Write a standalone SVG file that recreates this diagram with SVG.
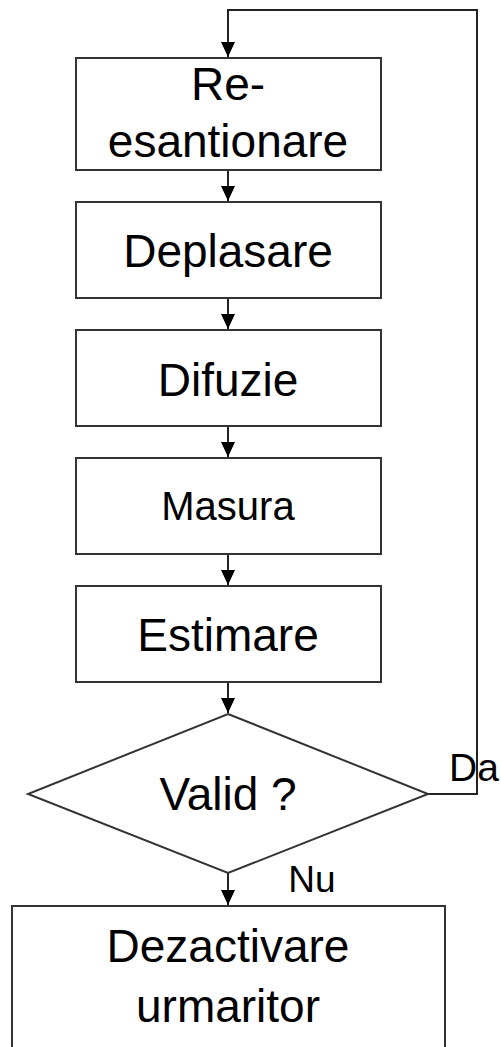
<svg xmlns="http://www.w3.org/2000/svg" width="501" height="1047" viewBox="0 0 501 1047">
<style>
.box{fill:#fff;stroke:#333;stroke-width:2}
.con{fill:none;stroke:#222;stroke-width:2}
text{font-family:"Liberation Sans",Arial,sans-serif;fill:#000;text-anchor:middle}
.t46{font-size:46px}
.t38{font-size:40px}
</style>
<defs>
<marker id="ah" markerUnits="userSpaceOnUse" markerWidth="16" markerHeight="14" refX="15" refY="7" orient="auto" viewBox="0 0 16 14">
<path d="M0,0 L15,7 L0,14 Z" fill="#000"/>
</marker>
</defs>
<rect width="501" height="1047" fill="#fff"/>
<g id="connectors">
<path class="con" d="M428,794 H477 V10 H228 V57" marker-end="url(#ah)"/>
<line class="con" x1="228" y1="170" x2="228" y2="201" marker-end="url(#ah)"/>
<line class="con" x1="228" y1="298" x2="228" y2="329" marker-end="url(#ah)"/>
<line class="con" x1="228" y1="426" x2="228" y2="457" marker-end="url(#ah)"/>
<line class="con" x1="228" y1="554" x2="228" y2="585" marker-end="url(#ah)"/>
<line class="con" x1="228" y1="682" x2="228" y2="713" marker-end="url(#ah)"/>
<line class="con" x1="228" y1="873" x2="228" y2="905" marker-end="url(#ah)"/>
</g>
<g id="n-resantionare">
<rect class="box" x="76" y="58" width="305" height="112"/>
<text class="t46" x="228" y="100">Re-</text>
<text class="t46" x="228" y="157">esantionare</text>
</g>
<g id="n-deplasare">
<rect class="box" x="76" y="202" width="305" height="96"/>
<text class="t46" x="228" y="267">Deplasare</text>
</g>
<g id="n-difuzie">
<rect class="box" x="76" y="330" width="305" height="96"/>
<text class="t46" x="228" y="396">Difuzie</text>
</g>
<g id="n-masura">
<rect class="box" x="76" y="458" width="305" height="96"/>
<text class="t38" x="228" y="520">Masura</text>
</g>
<g id="n-estimare">
<rect class="box" x="76" y="586" width="305" height="96"/>
<text class="t46" x="228" y="651">Estimare</text>
</g>
<g id="n-valid">
<polygon class="box" points="228,714 428,794 228,873 28,794"/>
<text class="t46" x="228" y="810">Valid ?</text>
</g>
<g id="lbl-da">
<text x="474" y="781" style="font-size:39px">Da</text>
</g>
<g id="lbl-nu">
<text x="312" y="892" style="font-size:37px">Nu</text>
</g>
<g id="n-dezactivare">
<rect class="box" x="12" y="906" width="433" height="160"/>
<text class="t46" x="228" y="962">Dezactivare</text>
<text class="t46" x="228" y="1022">urmaritor</text>
</g>
</svg>
